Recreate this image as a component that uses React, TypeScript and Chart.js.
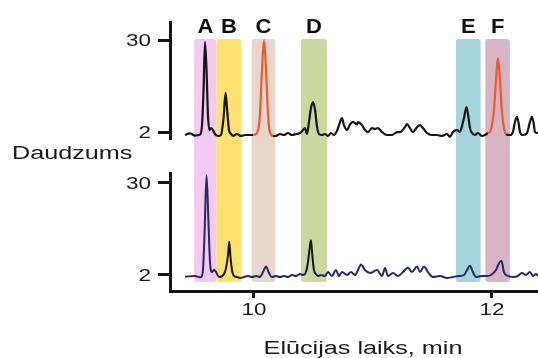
import { useEffect, useRef } from "react";
import { Chart, registerables } from "chart.js";

Chart.register(...registerables);

// ---------- data ----------
const TOP_X = [9.420, 9.462, 9.504, 9.546, 9.563, 9.576, 9.588, 9.601, 9.613, 9.626, 9.639, 9.655, 9.672, 9.697, 9.723, 9.744, 9.761, 9.773, 9.790, 9.807, 9.824, 9.857, 9.891, 9.924, 9.958, 9.992, 10.025, 10.050, 10.067, 10.084, 10.101, 10.118, 10.134, 10.160, 10.185, 10.218, 10.252, 10.286, 10.319, 10.353, 10.387, 10.412, 10.429, 10.445, 10.462, 10.479, 10.496, 10.513, 10.529, 10.546, 10.571, 10.597, 10.622, 10.647, 10.672, 10.697, 10.723, 10.739, 10.756, 10.782, 10.807, 10.832, 10.866, 10.874, 10.908, 10.933, 10.958, 10.992, 11.017, 11.042, 11.076, 11.118, 11.160, 11.202, 11.227, 11.269, 11.286, 11.311, 11.336, 11.370, 11.395, 11.420, 11.454, 11.496, 11.538, 11.580, 11.622, 11.647, 11.672, 11.706, 11.731, 11.748, 11.765, 11.786, 11.803, 11.815, 11.832, 11.857, 11.882, 11.916, 11.941, 11.966, 11.983, 12.000, 12.017, 12.034, 12.050, 12.067, 12.084, 12.101, 12.118, 12.151, 12.176, 12.193, 12.210, 12.227, 12.235, 12.261, 12.294, 12.319, 12.336, 12.353, 12.361, 12.387];
const TOP_Y = [1.1, 1.6, 0.9, 1.2, 4.1, 14.8, 29.4, 20.9, 7.2, 2.6, 3.2, 2.6, 1.4, 0.8, 1.1, 6.3, 13.9, 9.3, 2.6, 1.4, 0.8, 1.4, 0.8, 1.1, 1.1, 1.1, 1.7, 7.2, 20.9, 30.0, 20.9, 7.2, 2.0, 0.8, 0.8, 1.4, 1.1, 1.7, 1.1, 1.4, 1.7, 2.6, 3.2, 1.4, 5.0, 9.3, 11.1, 8.7, 3.8, 1.4, 1.1, 1.4, 0.8, 1.7, 1.1, 2.3, 5.0, 6.3, 4.1, 2.6, 4.3, 5.1, 4.3, 5.0, 4.1, 2.6, 2.0, 3.2, 2.9, 3.2, 2.0, 1.1, 1.1, 2.0, 2.0, 3.5, 4.4, 3.2, 2.0, 3.5, 4.1, 3.2, 1.7, 1.1, 1.1, 0.8, 1.4, 0.5, 2.0, 2.6, 2.0, 3.8, 6.3, 9.6, 6.3, 3.2, 1.7, 1.1, 1.7, 0.8, 1.1, 1.7, 2.0, 4.1, 8.7, 17.8, 24.5, 17.8, 8.1, 3.2, 1.4, 1.1, 2.0, 5.0, 6.6, 4.1, 2.0, 1.1, 1.7, 5.0, 6.6, 4.1, 2.0, 1.7];

const BOT_X = [9.420, 9.504, 9.546, 9.555, 9.571, 9.584, 9.601, 9.618, 9.630, 9.647, 9.664, 9.681, 9.697, 9.714, 9.748, 9.765, 9.782, 9.792, 9.803, 9.815, 9.832, 9.857, 9.882, 9.916, 9.950, 9.983, 10.017, 10.050, 10.076, 10.101, 10.126, 10.151, 10.185, 10.218, 10.252, 10.286, 10.319, 10.353, 10.387, 10.412, 10.437, 10.454, 10.471, 10.479, 10.492, 10.504, 10.521, 10.538, 10.563, 10.597, 10.622, 10.655, 10.689, 10.714, 10.739, 10.782, 10.815, 10.849, 10.874, 10.899, 10.933, 10.975, 11.034, 11.076, 11.101, 11.126, 11.168, 11.210, 11.252, 11.294, 11.328, 11.370, 11.395, 11.429, 11.462, 11.504, 11.563, 11.622, 11.672, 11.723, 11.765, 11.790, 11.815, 11.840, 11.866, 11.916, 11.958, 11.992, 12.034, 12.059, 12.080, 12.101, 12.134, 12.176, 12.218, 12.252, 12.286, 12.319, 12.345, 12.370, 12.387];
const BOT_Y = [1.5, 1.7, 1.3, 1.4, 3.5, 14.2, 32.4, 17.2, 6.0, 2.9, 3.5, 2.9, 1.7, 1.4, 2.3, 4.1, 8.1, 12.1, 7.2, 3.5, 1.7, 1.4, 1.1, 1.4, 1.7, 1.4, 1.7, 1.4, 2.9, 4.6, 2.6, 1.4, 1.7, 1.4, 1.7, 1.4, 2.0, 1.7, 2.3, 2.0, 2.9, 6.0, 11.1, 12.6, 7.2, 3.5, 2.3, 1.7, 2.0, 1.7, 2.9, 1.7, 3.5, 1.7, 2.9, 2.0, 2.9, 2.0, 3.5, 5.2, 3.5, 2.6, 3.5, 1.7, 4.1, 1.7, 2.6, 1.7, 2.9, 4.2, 2.9, 4.6, 2.9, 4.6, 2.9, 1.4, 1.7, 1.1, 1.4, 1.7, 2.0, 3.5, 4.8, 2.9, 1.4, 1.7, 1.7, 2.0, 3.5, 5.6, 6.3, 2.9, 1.7, 1.4, 1.7, 2.6, 2.0, 2.9, 1.7, 2.3, 1.7];

const BAND_LABELS = ["A", "B", "C", "D", "E", "F"];
const BAND_START = [9.497, 9.685, 9.98, 10.395, 11.697, 11.944];
const BAND_END = [9.685, 9.895, 10.18, 10.613, 11.905, 12.151];
const BAND_COLORS = ["#f4c8f0", "#fee170", "#e6d7ca", "#cbd89d", "#a3d5dc", "#d7b4c3"];
const BAND_TOP_VALUE = 30.3; // on upper axis
const BAND_BOTTOM_VALUE = -0.13; // on lower axis

const TOP_ORANGE_RANGES = [[9.99, 10.17], [11.97, 12.13]];
const BOT_BLACK_RANGES = [[9.70, 9.89], [10.43, 10.53]];

const X_TICKS = [10, 12];
const Y_TICKS = [2, 30];
const X_MIN = 9.294;
const X_MAX = 12.387;
const TOP_MIN = -0.12;
const TOP_MAX = 35.48;
const BOT_MIN = -2.87;
const BOT_MAX = 33.04;

const Y_TITLE = "Daudzums";
const X_TITLE = "Elūcijas laiks, min";

// ---------- styles ----------
const BLACK = "#151515";
const ORANGE = "#ec5a2e";
const NAVY = "#26256e";
const TEXT_FONT = '"Liberation Sans", Arial, sans-serif';
const STRETCH = 1.4;

function inRanges(v: number, ranges: number[][]) {
  return ranges.some(([a, b]) => v >= a && v <= b);
}

function drawStretched(ctx: any, text: string, x: number, y: number, align: string, sx: number) {
  ctx.save();
  ctx.translate(x, y);
  ctx.scale(sx, 1);
  ctx.textAlign = align;
  ctx.textBaseline = "alphabetic";
  ctx.fillText(text, 0, 0);
  ctx.restore();
}

const bandPlugin = {
  id: "bands",
  beforeDatasetsDraw(chart: any) {
    const { ctx, scales } = chart;
    const xs = scales.x;
    const top = scales.yTop.getPixelForValue(BAND_TOP_VALUE);
    const bottom = scales.yBot.getPixelForValue(BAND_BOTTOM_VALUE);
    ctx.save();
    BAND_START.forEach((s, i) => {
      const x0 = xs.getPixelForValue(s);
      const x1 = xs.getPixelForValue(BAND_END[i]);
      ctx.fillStyle = BAND_COLORS[i];
      ctx.beginPath();
      if (ctx.roundRect) ctx.roundRect(x0, top, x1 - x0, bottom - top, 3);
      else ctx.rect(x0, top, x1 - x0, bottom - top);
      ctx.fill();
    });
    ctx.restore();
  },
};

const textPlugin = {
  id: "texts",
  afterDraw(chart: any) {
    const { ctx, scales, chartArea } = chart;
    ctx.save();
    ctx.fillStyle = "#1a1a1a";
    // y tick labels
    ctx.font = `16px ${TEXT_FONT}`;
    ["yTop", "yBot"].forEach((id) => {
      const s = scales[id];
      s.ticks.forEach((t: any, i: number) => {
        const py = s.getPixelForTick(i);
        drawStretched(ctx, String(t.value), chartArea.left - 19, py + 5.8, "right", STRETCH);
      });
    });
    // x tick labels
    const xs = scales.x;
    xs.ticks.forEach((t: any, i: number) => {
      const px = xs.getPixelForTick(i);
      drawStretched(ctx, String(t.value), px, xs.top + 24, "center", STRETCH);
    });
    // titles
    ctx.font = `18px ${TEXT_FONT}`;
    drawStretched(ctx, Y_TITLE, 12, 159, "left", STRETCH);
    drawStretched(ctx, X_TITLE, 363, 354, "center", STRETCH);
    // band letters
    ctx.fillStyle = "#0d0d0d";
    ctx.font = `bold 20px ${TEXT_FONT}`;
    BAND_LABELS.forEach((lab, i) => {
      const cx = xs.getPixelForValue((BAND_START[i] + BAND_END[i]) / 2);
      drawStretched(ctx, lab, cx, 33, "center", 1.1);
    });
    ctx.restore();
  },
};

export default function App() {
  const ref = useRef<HTMLCanvasElement | null>(null);

  useEffect(() => {
    document.body.style.margin = "0";
    const canvas = ref.current;
    if (!canvas) return;

    const yCommon = (min: number, max: number, weight: number, stackWeight: number) => ({
      type: "linear",
      position: "left",
      stack: "panels",
      stackWeight,
      weight,
      min,
      max,
      afterBuildTicks: (s: any) => {
        s.ticks = Y_TICKS.map((v) => ({ value: v }));
      },
      afterFit: (s: any) => {
        s.width = 170;
      },
      grid: {
        display: true,
        drawOnChartArea: false,
        drawTicks: true,
        tickLength: 12,
        tickWidth: 3,
        tickColor: BLACK,
      },
      border: { display: true, color: BLACK, width: 3 },
      ticks: { display: false },
    });

    const chart = new Chart(canvas, {
      type: "line",
      data: {
        datasets: [
          {
            data: TOP_X.map((x, i) => ({ x, y: TOP_Y[i] })),
            yAxisID: "yTop",
            borderColor: BLACK,
            borderWidth: 2.2,
            pointRadius: 0,
            cubicInterpolationMode: "monotone",
            segment: {
              borderColor: (c: any) =>
                inRanges((c.p0.parsed.x + c.p1.parsed.x) / 2, TOP_ORANGE_RANGES) ? ORANGE : BLACK,
            },
          },
          {
            data: BOT_X.map((x, i) => ({ x, y: BOT_Y[i] })),
            yAxisID: "yBot",
            borderColor: NAVY,
            borderWidth: 2,
            pointRadius: 0,
            cubicInterpolationMode: "monotone",
            segment: {
              borderColor: (c: any) =>
                inRanges((c.p0.parsed.x + c.p1.parsed.x) / 2, BOT_BLACK_RANGES) ? BLACK : NAVY,
            },
          },
        ],
      },
      options: {
        responsive: false,
        animation: false,
        events: [],
        layout: { padding: { top: 22, left: 0, right: 0, bottom: 0 } },
        plugins: { legend: { display: false }, tooltip: { enabled: false }, title: { display: false } },
        scales: {
          x: {
            type: "linear",
            position: "bottom",
            min: X_MIN,
            max: X_MAX,
            afterBuildTicks: (s: any) => {
              s.ticks = X_TICKS.map((v) => ({ value: v }));
            },
            afterFit: (s: any) => {
              s.height = 67;
            },
            grid: {
              display: true,
              drawOnChartArea: false,
              drawTicks: true,
              tickLength: 7,
              tickWidth: 3,
              tickColor: BLACK,
            },
            border: { display: true, color: BLACK, width: 3 },
            ticks: { display: false },
          },
          yTop: yCommon(TOP_MIN, TOP_MAX, 3, 117),
          yGap: {
            type: "linear",
            position: "left",
            stack: "panels",
            stackWeight: 34,
            weight: 2,
            display: false,
          },
          yBot: yCommon(BOT_MIN, BOT_MAX, 1, 118),
        },
      } as any,
      plugins: [bandPlugin, textPlugin],
    } as any);

    return () => chart.destroy();
  }, []);

  return (
    <div style={{ width: 538, height: 358 }}>
      <canvas ref={ref} width={538} height={358} style={{ display: "block" }} />
    </div>
  );
}
